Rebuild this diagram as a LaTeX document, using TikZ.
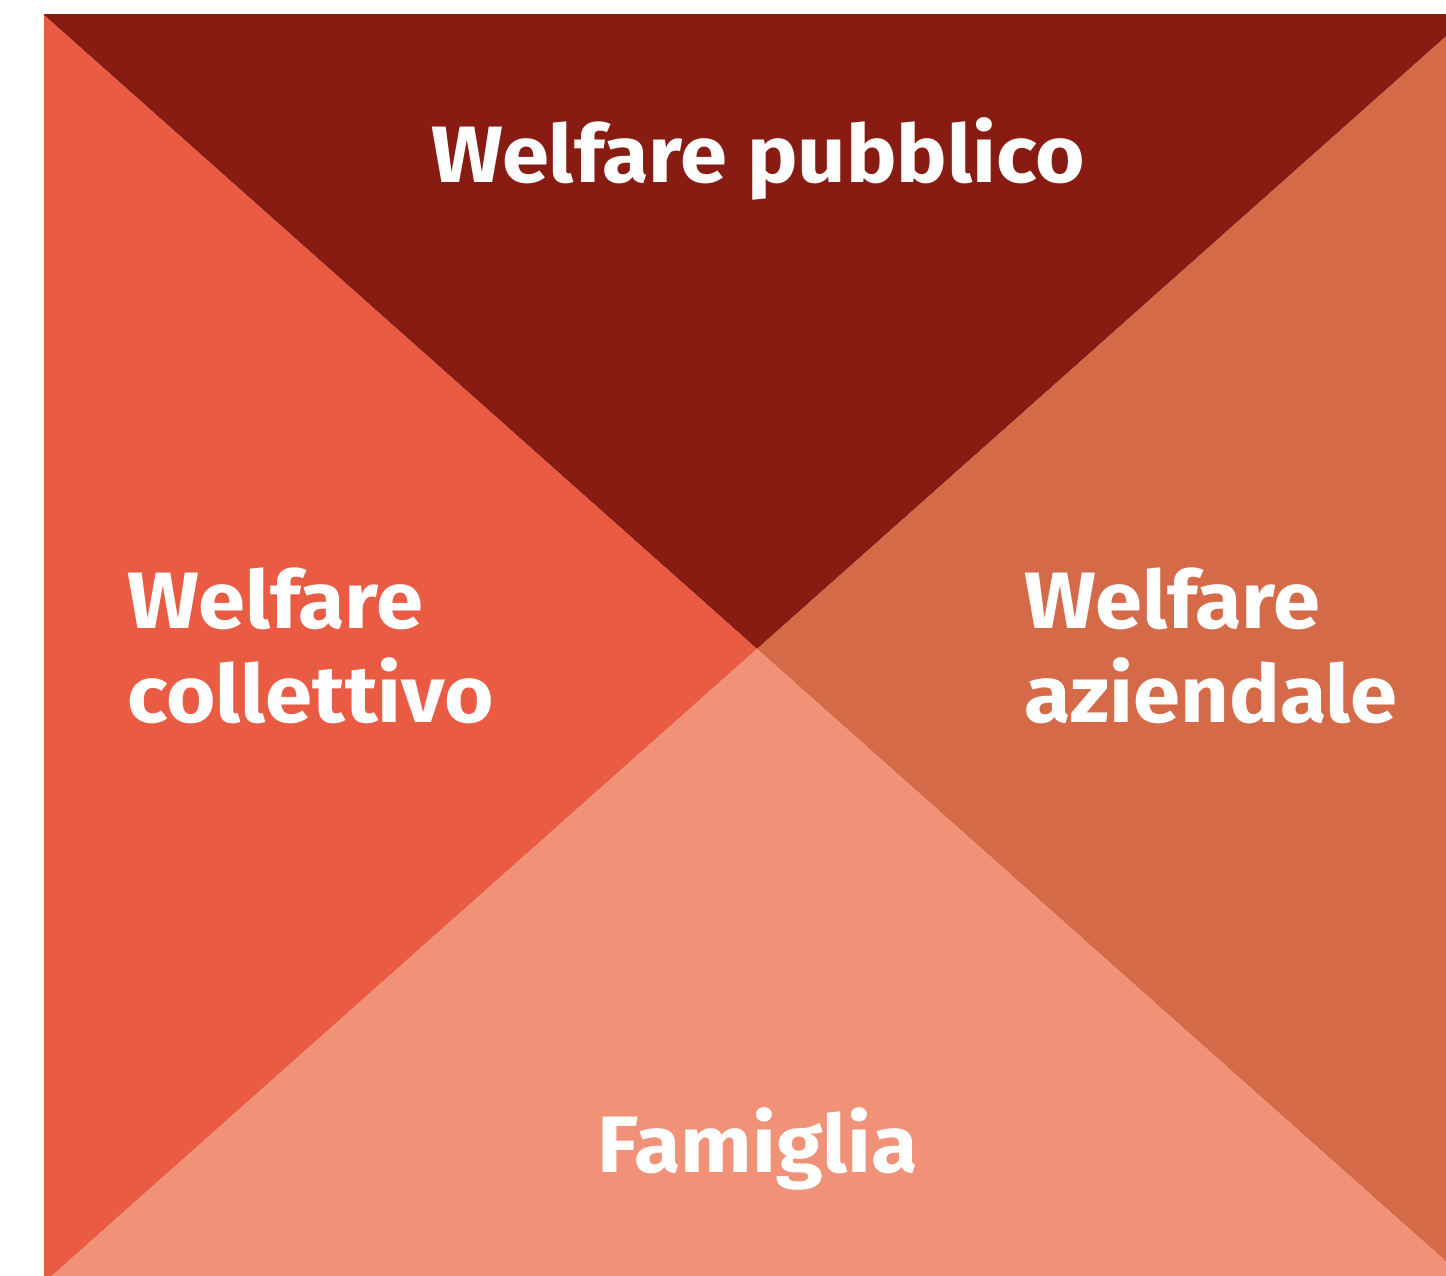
\documentclass[tikz,border=0pt]{standalone}
\usepackage{fontspec}
\usetikzlibrary{calc}
\setmainfont{Fira Sans}[UprightFont={* Bold},FakeStretch=1.06]
\definecolor{cTop}{HTML}{891C12}
\definecolor{cLeft}{HTML}{E95B43}
\definecolor{cRight}{HTML}{D46A48}
\definecolor{cBot}{HTML}{F09178}
\begin{document}
\begin{tikzpicture}[x=1pt,y=-1pt,
  lbl/.style={text=white,font=\fontsize{80}{94}\selectfont,inner sep=0pt}]
\useasboundingbox (0,0) rectangle (1446,1276);
\fill[white] (0,0) rectangle (1446,1276);
\coordinate (c) at (757,649);
\begin{scope}
\clip (44,15) rectangle (1446,1276);
\fill[cTop] (c) -- ($(c)+(-1000,-889)$) -- ($(c)+(1000,-889)$) -- cycle;
\fill[cLeft] (c) -- ($(c)+(-1000,-889)$) -- ($(c)+(-1000,889)$) -- cycle;
\fill[cRight] (c) -- ($(c)+(1000,-889)$) -- ($(c)+(1000,889)$) -- cycle;
\fill[cBot] (c) -- ($(c)+(-1000,889)$) -- ($(c)+(1000,889)$) -- cycle;
\end{scope}
\node[lbl,anchor=base] (pub) at (758,183) {Welfare pubblico};
\node[lbl,anchor=base west,align=left] (col) at (127,722) {Welfare\\collettivo};
\node[lbl,anchor=base west,align=left] (azi) at (1024,722) {Welfare\\aziendale};
\node[lbl,anchor=base] (fam) at (758,1172) {Famiglia};
\end{tikzpicture}
\end{document}
